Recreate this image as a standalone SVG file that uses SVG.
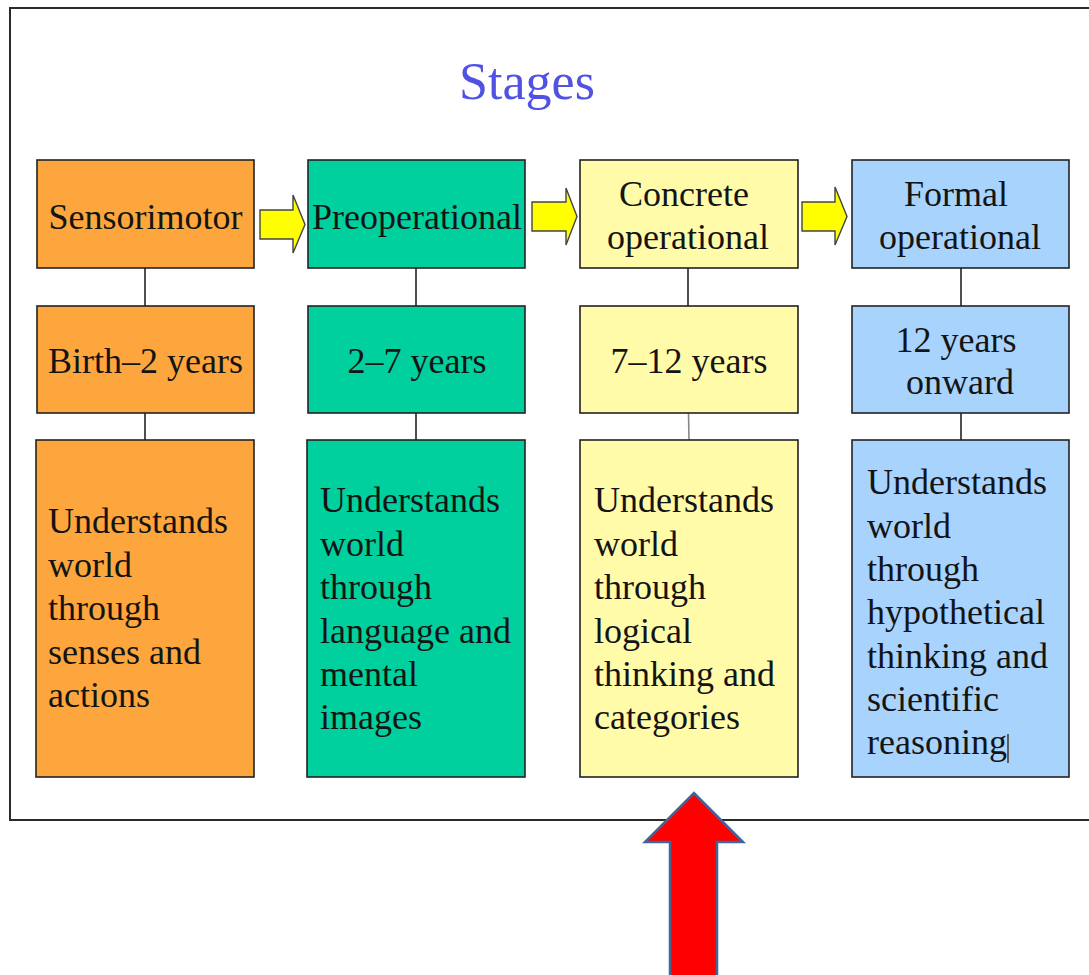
<svg xmlns="http://www.w3.org/2000/svg" width="1089" height="975" viewBox="0 0 1089 975">
  <style>
    .box { stroke: #222; stroke-width: 1.6; }
    .orange { fill: #FDA63D; }
    .teal { fill: #00CF9E; }
    .cream { fill: #FFFBA8; }
    .blue { fill: #A8D3FD; }
    .lbl { font-family: "Liberation Serif", "Times New Roman", serif; font-size: 36px; fill: #141414; }
    .mid { text-anchor: middle; }
    .link { stroke: #222; stroke-width: 1.6; fill: none; }
    .step { fill: #FFFF00; stroke: #444; stroke-width: 1.4; }
    .title { font-family: "Liberation Serif", "Times New Roman", serif; font-size: 52px; fill: #4F52E3; text-anchor: middle; }
  </style>

  <rect width="1089" height="975" fill="#ffffff"/>

  <!-- outer frame -->
  <rect x="10" y="8" width="1100" height="812" fill="none" stroke="#2a2a2a" stroke-width="2"/>

  <!-- title -->
  <text class="title" x="527" y="99">Stages</text>

  <!-- connectors -->
  <g id="connectors">
    <line class="link" x1="145" y1="268" x2="145" y2="306"/>
    <line class="link" x1="145" y1="413" x2="145" y2="440"/>
    <line class="link" x1="416" y1="268" x2="416" y2="306"/>
    <line class="link" x1="416" y1="413" x2="416" y2="440"/>
    <line class="link" x1="688" y1="268" x2="688" y2="306"/>
    <line x1="688.5" y1="413" x2="689" y2="440" stroke="#888" stroke-width="1.6"/>
    <line class="link" x1="961" y1="268" x2="961" y2="306"/>
    <line class="link" x1="961" y1="413" x2="961" y2="440"/>
    <!-- block arrows between stages -->
    <path class="step" d="M260,210 H293 V195 L305,224.5 L293,253 V239 H260 Z"/>
    <path class="step" d="M532,202 H566 V188 L577,216.5 L566,245 V231 H532 Z"/>
    <path class="step" d="M802,202 H835 V187 L847,216.5 L835,245 V231 H802 Z"/>
  </g>

  <!-- stage 1 -->
  <g id="sensorimotor">
    <rect class="box orange" x="37" y="160" width="217" height="108"/>
    <text class="lbl mid" x="145.5" y="229">Sensorimotor</text>
  </g>
  <g id="age-sensorimotor">
    <rect class="box orange" x="37" y="306" width="217" height="107"/>
    <text class="lbl mid" x="145.5" y="373">Birth–2 years</text>
  </g>
  <g id="desc-sensorimotor">
    <rect class="box orange" x="36" y="440" width="218" height="337"/>
    <text class="lbl" x="48" y="533">Understands</text>
    <text class="lbl" x="48" y="577">world</text>
    <text class="lbl" x="48" y="620">through</text>
    <text class="lbl" x="48" y="664">senses and</text>
    <text class="lbl" x="48" y="707">actions</text>
  </g>

  <!-- stage 2 -->
  <g id="preoperational">
    <rect class="box teal" x="308" y="160" width="217" height="108"/>
    <text class="lbl mid" x="417" y="229">Preoperational</text>
  </g>
  <g id="age-preoperational">
    <rect class="box teal" x="308" y="306" width="217" height="107"/>
    <text class="lbl mid" x="417" y="373">2–7 years</text>
  </g>
  <g id="desc-preoperational">
    <rect class="box teal" x="307" y="440" width="218" height="337"/>
    <text class="lbl" x="320" y="512">Understands</text>
    <text class="lbl" x="320" y="556">world</text>
    <text class="lbl" x="320" y="599">through</text>
    <text class="lbl" x="320" y="643">language and</text>
    <text class="lbl" x="320" y="686">mental</text>
    <text class="lbl" x="320" y="729">images</text>
  </g>

  <!-- stage 3 -->
  <g id="concrete">
    <rect class="box cream" x="580" y="160" width="218" height="108"/>
    <text class="lbl mid" x="684" y="206">Concrete</text>
    <text class="lbl mid" x="688" y="249">operational</text>
  </g>
  <g id="age-concrete">
    <rect class="box cream" x="580" y="306" width="218" height="107"/>
    <text class="lbl mid" x="689" y="373">7–12 years</text>
  </g>
  <g id="desc-concrete">
    <rect class="box cream" x="580" y="440" width="218" height="337"/>
    <text class="lbl" x="594" y="512">Understands</text>
    <text class="lbl" x="594" y="556">world</text>
    <text class="lbl" x="594" y="599">through</text>
    <text class="lbl" x="594" y="643">logical</text>
    <text class="lbl" x="594" y="686">thinking and</text>
    <text class="lbl" x="594" y="729">categories</text>
  </g>

  <!-- stage 4 -->
  <g id="formal">
    <rect class="box blue" x="852" y="160" width="217" height="108"/>
    <text class="lbl mid" x="956" y="206">Formal</text>
    <text class="lbl mid" x="960" y="249">operational</text>
  </g>
  <g id="age-formal">
    <rect class="box blue" x="852" y="306" width="217" height="107"/>
    <text class="lbl mid" x="956" y="352">12 years</text>
    <text class="lbl mid" x="960" y="394">onward</text>
  </g>
  <g id="desc-formal">
    <rect class="box blue" x="852" y="440" width="217" height="337"/>
    <text class="lbl" x="867" y="494">Understands</text>
    <text class="lbl" x="867" y="538">world</text>
    <text class="lbl" x="867" y="581">through</text>
    <text class="lbl" x="867" y="624">hypothetical</text>
    <text class="lbl" x="867" y="668">thinking and</text>
    <text class="lbl" x="867" y="711">scientific</text>
    <text class="lbl" x="867" y="754">reasoning</text>
    <line x1="1008" y1="734" x2="1008" y2="763" stroke="#3a2a1a" stroke-width="1.4"/>
  </g>

  <!-- red pointer arrow -->
  <g id="pointer">
    <path d="M670,975 V842 H645 L694,793 L743,842 H717 V975" fill="#FF0000" stroke="#41679A" stroke-width="2.5" stroke-linejoin="miter"/>
  </g>
</svg>
